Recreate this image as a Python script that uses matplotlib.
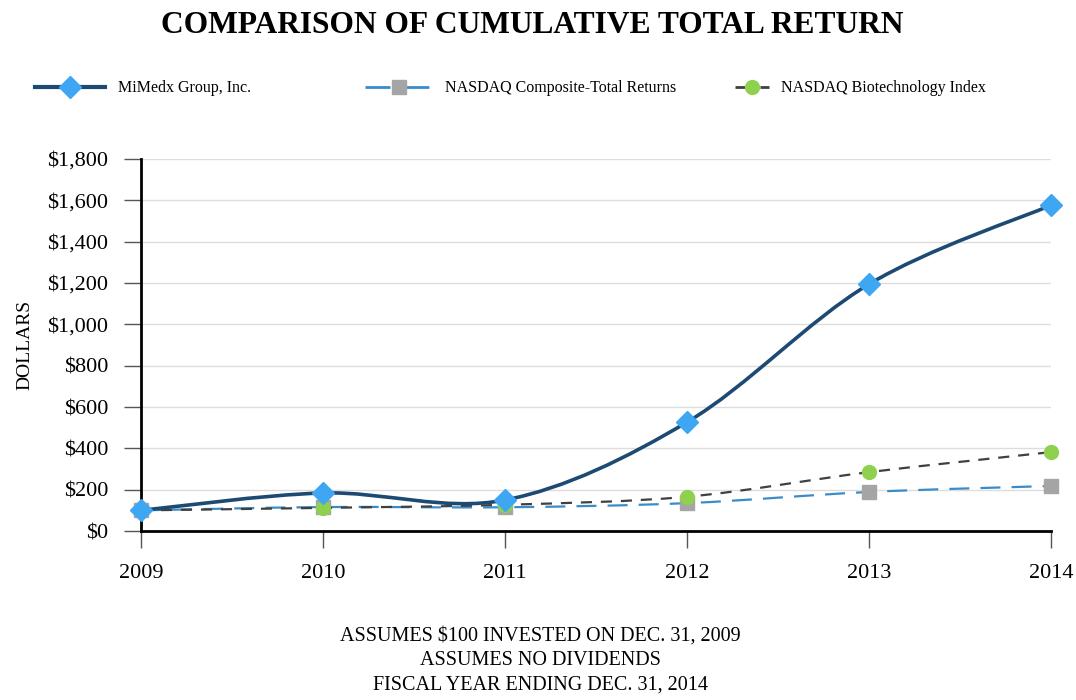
import matplotlib.pyplot as plt
import numpy as np
from matplotlib.path import Path
from matplotlib.patches import PathPatch
from matplotlib.lines import Line2D

plt.rcParams['font.family'] = ['Liberation Serif', 'DejaVu Serif']

# data
years = [2009, 2010, 2011, 2012, 2013, 2014]
mimedx = [100, 184, 150, 527, 1195, 1577]
nasdaq_comp = [100, 116, 115, 135, 189, 218]
nasdaq_bio = [100, 112, 127, 166, 285, 382]

series_names = ['MiMedx Group, Inc.', 'NASDAQ Composite-Total Returns', 'NASDAQ Biotechnology Index']
y_ticks = [0, 200, 400, 600, 800, 1000, 1200, 1400, 1600, 1800]
notes = ['ASSUMES $100 INVESTED ON DEC. 31, 2009',
         'ASSUMES NO DIVIDENDS',
         'FISCAL YEAR ENDING DEC. 31, 2014']


def smooth_path(x, y):
    # spreadsheet-style smoothed line: cubic bezier segments between the points
    pts = np.column_stack([x, y]).astype(float)
    n = len(pts)
    verts = [pts[0]]
    codes = [Path.MOVETO]
    for i in range(n - 1):
        p0 = pts[max(i - 1, 0)]
        p1 = pts[i]
        p2 = pts[i + 1]
        p3 = pts[min(i + 2, n - 1)]
        c1 = p1 + (p2 - p0) / 6
        c2 = p2 - (p3 - p1) / 6
        verts += [c1, c2, p2]
        codes += [Path.CURVE4] * 3
    return Path(verts, codes)


fig = plt.figure(figsize=(10.76, 7), dpi=100)
ax = fig.add_axes([0.131, 0.2414, 0.846, 0.5314])

styles = [
    dict(data=mimedx, color='#1d4a72', lw=2.6, ls='-', marker='D', mfc='#3ea6f2', ms=11),
    dict(data=nasdaq_comp, color='#3a8cc8', lw=1.6, ls=(0, (9, 5)), marker='s', mfc='#a5a5a5', ms=10),
    dict(data=nasdaq_bio, color='#404040', lw=1.6, ls=(0, (5, 4)), marker='o', mfc='#8fd14f', ms=10),
]

# draw the benchmarks first so MiMedx sits on top
for z, st in zip([5, 3, 4], styles):
    patch = PathPatch(smooth_path(years, st['data']), fill=False, edgecolor=st['color'],
                      lw=st['lw'], linestyle=st['ls'], zorder=z)
    ax.add_patch(patch)
    ax.plot(years, st['data'], ls='none', marker=st['marker'], mfc=st['mfc'], mec=st['mfc'],
            ms=st['ms'], zorder=z + 0.5, clip_on=False)

ax.set_xlim(2009, 2014)
ax.set_ylim(0, 1800)
ax.set_xticks(years)
ax.set_xticklabels([str(y) for y in years], fontsize=16)
ax.set_yticks(y_ticks)
ax.set_yticklabels(['${:,}'.format(v) for v in y_ticks], fontsize=16)
ax.tick_params(axis='both', direction='out', length=12, width=1, color='#555555')
ax.tick_params(axis='y', pad=11.5)
ax.tick_params(axis='x', pad=12)
ax.yaxis.grid(True, color='#dddddd', lw=1)
ax.set_axisbelow(True)
for s in ['top', 'right']:
    ax.spines[s].set_visible(False)
for s in ['left', 'bottom']:
    ax.spines[s].set_linewidth(2)
    ax.spines[s].set_color('black')
ax.set_ylabel('DOLLARS', fontsize=14, labelpad=10)

fig.text(0.495, 0.964, 'COMPARISON OF CUMULATIVE TOTAL RETURN', ha='center', va='center',
         fontsize=22.7, fontweight='bold')

# three separate legend entries, placed like the original
legend_x = [35 / 1076, 365 / 1076, 735 / 1076]
handle_len = [4.4, 4.2, 2.1]
for st, name, lx, hl in zip(styles, series_names, legend_x, handle_len):
    h = Line2D([], [], color=st['color'], lw=st['lw'] + 0.4, ls=st['ls'], marker=st['marker'],
               mfc=st['mfc'], mec=st['mfc'], ms=st['ms'])
    leg = fig.legend([h], [name], loc='center left', bbox_to_anchor=(lx, 0.874), frameon=False,
                     fontsize=11.5, handlelength=hl, handletextpad=0.8, borderpad=0,
                     borderaxespad=0)

for i, t in enumerate(notes):
    fig.text(0.502, 0.091 - i * 0.0345, t, ha='center', va='center', fontsize=14.5)

fig.savefig('out.png', dpi=100)
